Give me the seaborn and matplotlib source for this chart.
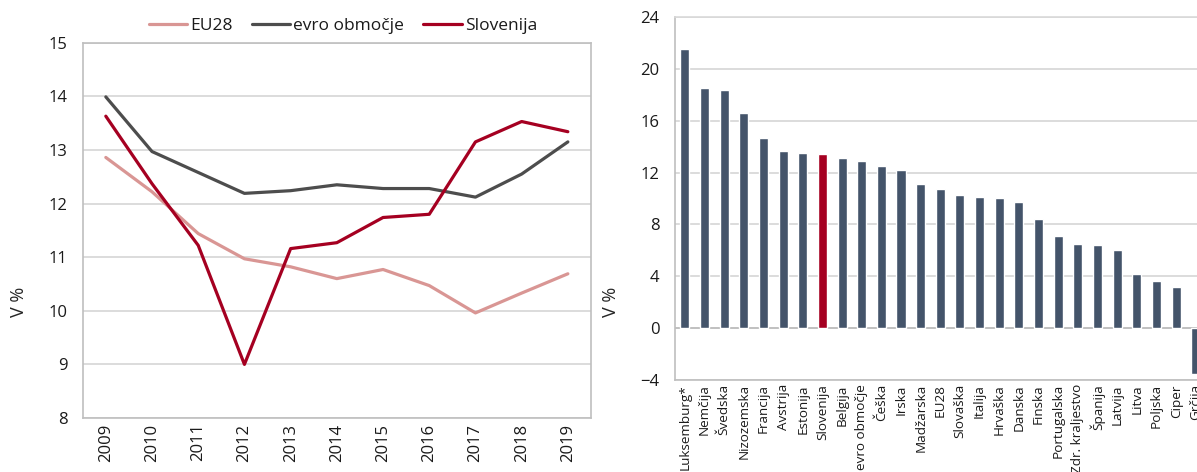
import matplotlib
matplotlib.use("Agg")
import matplotlib.pyplot as plt
import seaborn as sns
import pandas as pd

# left panel: time series
years = [2009, 2010, 2011, 2012, 2013, 2014, 2015, 2016, 2017, 2018, 2019]
eu28 = [12.86, 12.22, 11.44, 10.97, 10.82, 10.60, 10.77, 10.47, 9.96, 10.33, 10.69]
evro = [13.99, 12.97, 12.58, 12.19, 12.24, 12.35, 12.28, 12.28, 12.12, 12.55, 13.15]
slovenija = [13.63, 12.37, 11.22, 9.00, 11.16, 11.27, 11.74, 11.80, 13.15, 13.53, 13.34]
series_names = ["EU28", "evro območje", "Slovenija"]
series_colors = ["#D99694", "#4D4D4D", "#A50021"]

# right panel: countries
countries = ["Luksemburg*", "Nemčija", "Švedska", "Nizozemska", "Francija", "Avstrija",
             "Estonija", "Slovenija", "Belgija", "evro območje", "Češka", "Irska",
             "Madžarska", "EU28", "Slovaška", "Italija", "Hrvaška", "Danska", "Finska",
             "Portugalska", "Zdr. kraljestvo", "Španija", "Latvija", "Litva", "Poljska",
             "Ciper", "Grčija"]
values = [21.5, 18.5, 18.4, 16.6, 14.7, 13.7, 13.5, 13.4, 13.1, 12.9, 12.5, 12.2,
          11.1, 10.7, 10.3, 10.1, 10.0, 9.7, 8.4, 7.1, 6.5, 6.4, 6.0, 4.15, 3.6,
          3.15, -3.5]

BAR = "#44546A"
HIGHLIGHT = "#A50021"
GRID = "#D9D9D9"
SPINE = "#BFBFBF"

sns.set_style("white")
plt.rcParams["font.family"] = ["Open Sans", "DejaVu Sans"]
plt.rcParams["text.color"] = "#1a1a1a"
plt.rcParams["xtick.color"] = "#1a1a1a"
plt.rcParams["ytick.color"] = "#1a1a1a"

fig = plt.figure(figsize=(11.97, 4.72), dpi=100)
ax1 = fig.add_axes([0.0691, 0.1144, 0.4246, 0.7951])
ax2 = fig.add_axes([0.5639, 0.1949, 0.4433, 0.7691])

# --- line chart
df_lines = pd.DataFrame({
    "leto": years * 3,
    "vrednost": eu28 + evro + slovenija,
    "serija": [n for n in series_names for _ in years],
})
sns.lineplot(data=df_lines, x="leto", y="vrednost", hue="serija",
             palette=dict(zip(series_names, series_colors)), linewidth=2.3,
             ax=ax1, zorder=3)
ax1.set_xlim(years[0] - 0.5, years[-1] + 0.5)
ax1.set_ylim(8, 15)
ax1.set_xticks(years)
ax1.set_xticklabels([str(y) for y in years], rotation=90, ha="center", va="top",
                    fontsize=12)
ax1.set_yticks(range(8, 16))
ax1.tick_params(axis="y", labelsize=12, pad=11, length=0)
ax1.tick_params(axis="x", pad=4, length=0)
ax1.grid(True, axis="y", color=GRID, linewidth=1.3, zorder=0)
for s in ax1.spines.values():
    s.set_color(SPINE)
    s.set_linewidth(1.2)
ax1.set_xlabel("")
ax1.set_ylabel("V %", fontsize=13)
ax1.yaxis.set_label_coords(-0.108, 0.31)
ax1.legend(loc="center", bbox_to_anchor=(0.512, 1.045), ncol=3, frameon=False,
           fontsize=12.5, handlelength=2.2, handletextpad=0.2, columnspacing=1.1,
           borderaxespad=0)

# --- bar chart
df_bars = pd.DataFrame({"drzava": countries, "vrednost": values})
bar_palette = {c: (HIGHLIGHT if c == "Slovenija" else BAR) for c in countries}
sns.barplot(data=df_bars, x="drzava", y="vrednost", hue="drzava", palette=bar_palette,
            legend=False, width=0.46, ax=ax2, zorder=3, saturation=1)
ax2.set_xlim(-0.5, len(countries) - 0.5)
ax2.set_ylim(-4, 24)
ax2.set_yticks(range(-4, 25, 4))
ax2.set_xticks(range(len(countries)))
ax2.set_xticklabels(countries, rotation=90, ha="center", va="top", fontsize=9.7,
                    rotation_mode="default")
ax2.tick_params(axis="y", labelsize=12, pad=11, length=0)
ax2.tick_params(axis="x", pad=3, length=0)
ax2.grid(True, axis="y", color=GRID, linewidth=1.3, zorder=0)
ax2.axhline(0, color=SPINE, linewidth=1.3, zorder=2)
for s in ax2.spines.values():
    s.set_color(SPINE)
    s.set_linewidth(1.2)
ax2.spines["right"].set_visible(False)
ax2.spines["top"].set_color(GRID)
ax2.set_xlabel("")
ax2.set_ylabel("V %", fontsize=13)
ax2.yaxis.set_label_coords(-0.103, 0.215)

fig.savefig("out.png", dpi=100)
